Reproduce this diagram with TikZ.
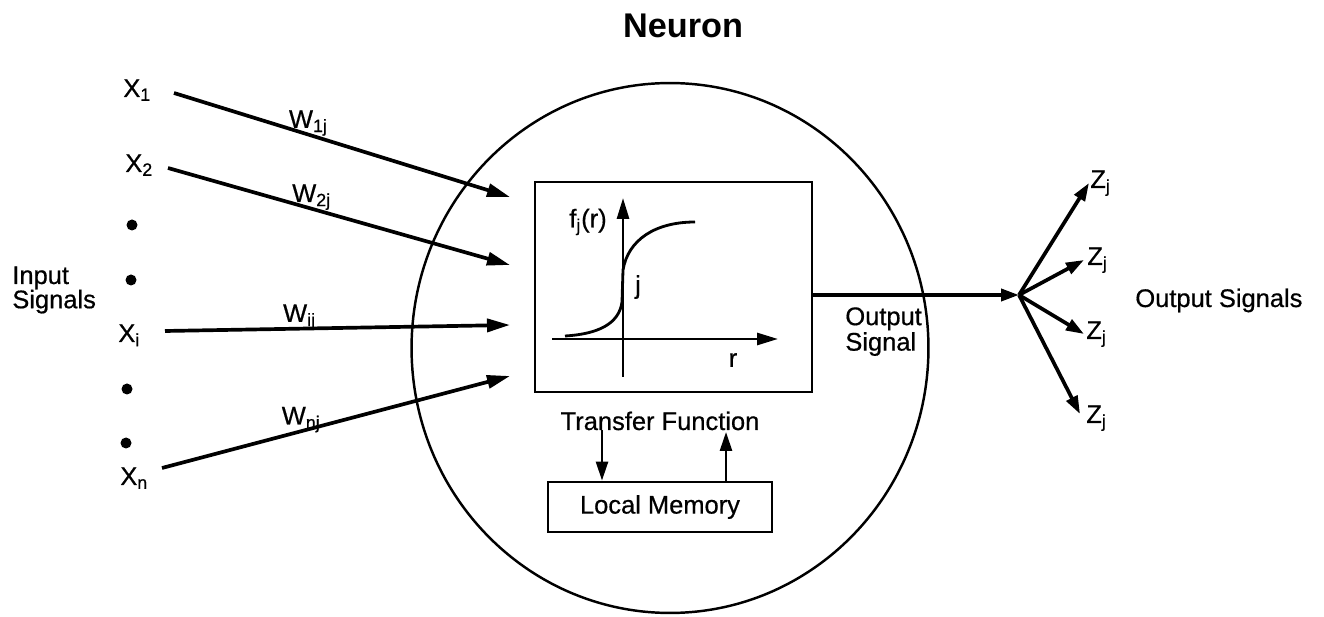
\documentclass[tikz,border=0pt]{standalone}
\usepackage{fontspec}
\setmainfont{Liberation Sans}
\newfontfamily\medfont{Liberation Sans}[FakeBold=0.6]
\usetikzlibrary{arrows.meta,shapes.geometric}
\begin{document}
\begin{tikzpicture}[x=0.02cm,y=-0.02cm,
  txt/.style={font=\medfont\fontsize{14.5}{16}\selectfont, inner sep=0pt},
  ttl/.style={font=\fontsize{19.5}{22}\selectfont\bfseries, inner sep=0pt},
  insig/.style={line width=2.1pt, -{Triangle[length=0.46cm,width=0.26cm]}},
  outsig/.style={line width=2.1pt, -{Triangle[length=0.36cm,width=0.24cm]}},
  axis/.style={line width=1.6pt, -{Triangle[length=0.42cm,width=0.24cm]}},
  memarrow/.style={line width=1.5pt, -{Triangle[length=0.38cm,width=0.24cm]}},
  boxed/.style={draw, line width=1.6pt, inner sep=0pt},
  wlab/.style={txt, anchor=south, inner sep=0pt, yshift=-0.06cm},
  dot/.style={circle, fill, inner sep=0pt, minimum size=0.22cm}
]
\useasboundingbox (0,0) rectangle (1324,617);

% title
\node[ttl, anchor=base] (neuron) at (683,38) {Neuron};

% cell body
\node[draw, ellipse, line width=1.4pt, minimum width=10.34cm, minimum height=10.6cm, inner sep=0pt] (cell) at (670,348) {};

% transfer function box
\node[boxed, minimum width=5.54cm, minimum height=4.2cm] (tf) at (673.5,287) {};
\node[txt, anchor=base] (tflab) at (660,430) {Transfer Function};

% local memory
\node[boxed, txt, minimum width=4.48cm, minimum height=1.0cm] (lm) at (660,507) {Local Memory};

% graph inside
\coordinate (vb) at (623,377);
\coordinate (vt) at (623,198);
\coordinate (hl) at (552,339);
\coordinate (hr) at (778,339);
\draw[axis] (vb) -- (vt);
\draw[axis] (hl) -- (hr);
\draw[line width=1.6pt] (565,336) .. controls (598,334) and (619,324) .. (622,302) -- (623,270)
   .. controls (628,240) and (655,222) .. (695,222);
\node[txt] (flab) at (588,222) {f\textsubscript{j}(r)};
\node[txt] (jlab) at (638,287) {j};
\node[txt] (rlab) at (733,360) {r};

% memory arrows
\coordinate (d1) at (602,430);
\coordinate (u1) at (726,432);
\draw[memarrow] (d1) -- (d1 |- lm.north);
\draw[memarrow] (u1 |- lm.north) -- (u1);

% inputs
\node[txt, anchor=base west] (x1) at (123,97) {X\textsubscript{1}};
\node[txt, anchor=base west] (x2) at (125,172) {X\textsubscript{2}};
\node[dot] (d2) at (132,225) {};
\node[dot] (d3) at (131,280) {};
\node[txt, anchor=base west] (xi) at (118,342) {X\textsubscript{i}};
\node[dot] (d4) at (127,389) {};
\node[dot] (d5) at (126,443) {};
\node[txt, anchor=base west] (xn) at (120,485) {X\textsubscript{n}};
\node[txt, anchor=west, align=left, font=\medfont\fontsize{14.5}{13.8}\selectfont] (insigs) at (12,290) {Input\\Signals};

\coordinate (s1) at (174,93);
\coordinate (s2) at (168,168);
\coordinate (s3) at (165,331);
\coordinate (s4) at (162,468);
\coordinate (e1) at (510,197);
\coordinate (e2) at (510,265);
\coordinate (e3) at (510,325);
\coordinate (e4) at (510,376);
\draw[insig] (s1) -- node[wlab, pos=0.40] (w1) {W\textsubscript{1j}} (e1);
\draw[insig] (s2) -- node[wlab, pos=0.42] (w2) {W\textsubscript{2j}} (e2);
\draw[insig] (s3) -- node[wlab, pos=0.39] (wi) {W\textsubscript{ij}} (e3);
\draw[insig] (s4) -- node[wlab, pos=0.40] (wn) {W\textsubscript{nj}} (e4);

% output
\coordinate (o1) at (tf.east |- 0,295);
\coordinate (fan) at (1019,295);
\draw[outsig] (o1) -- (fan);
\node[txt, anchor=north west, align=left, font=\medfont\fontsize{14.5}{14.5}\selectfont] (osig) at (845,307) {Output\\Signal};

\coordinate (t1) at (1089,183);
\coordinate (t2) at (1084,260);
\coordinate (t3) at (1084,334);
\coordinate (t4) at (1080,414);
\draw[outsig] (fan) -- (t1);
\draw[outsig] (fan) -- (t2);
\draw[outsig] (fan) -- (t3);
\draw[outsig] (fan) -- (t4);
\node[txt, anchor=base west] (z1) at (1090,188) {Z\textsubscript{j}};
\node[txt, anchor=base west] (z2) at (1087,265) {Z\textsubscript{j}};
\node[txt, anchor=base west] (z3) at (1086,339) {Z\textsubscript{j}};
\node[txt, anchor=base west] (z4) at (1086,423) {Z\textsubscript{j}};
\node[txt, anchor=base west] (osigs) at (1135,307) {Output Signals};
\end{tikzpicture}
\end{document}
